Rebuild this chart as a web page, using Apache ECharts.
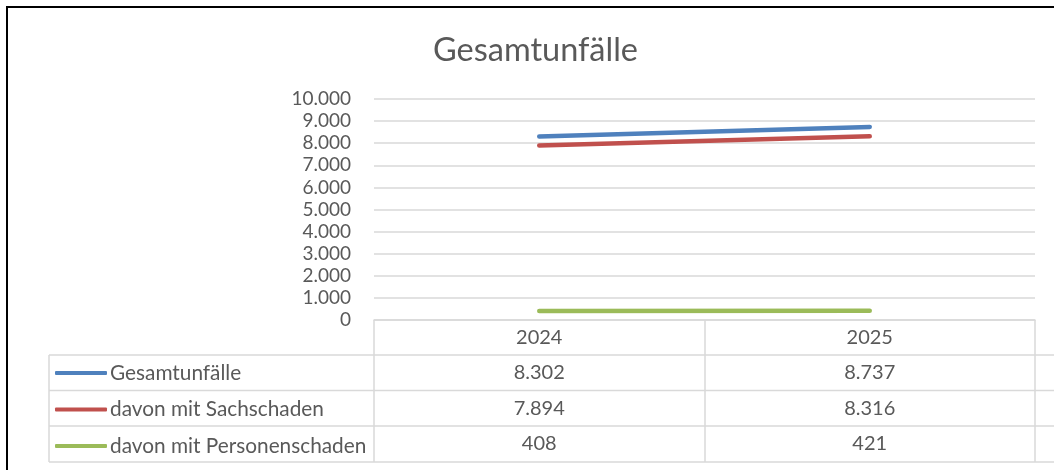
<!DOCTYPE html>
<html>
<head>
<meta charset="utf-8">
<title>Gesamtunfälle</title>
<script src="https://cdn.jsdelivr.net/npm/echarts@6/dist/echarts.min.js"></script>
<style>
  html, body { margin: 0; padding: 0; background: #fff; overflow: hidden; }
  #wrap { width: 1054px; height: 470px; overflow: hidden; }
  #chart { width: 1062px; height: 470px; }
</style>
</head>
<body>
<div id="wrap"><div id="chart"></div></div>
<script>
// Werte aus der Vorlage
const years = ['2024', '2025']
const seriesNames = ['Gesamtunfälle', 'davon mit Sachschaden', 'davon mit Personenschaden']
const gesamt = [8302, 8737]
const sachschaden = [7894, 8316]
const personenschaden = [408, 421]
const yTicks = [0, 1000, 2000, 3000, 4000, 5000, 6000, 7000, 8000, 9000, 10000]

const colors = ['#4F81BD', '#C0504D', '#9BBB59']
const textColor = '#595959'
const lineColor = '#d9d9d9'
const font = 'Lato'

// Tausenderpunkt wie in der Vorlage
const fmt = v => String(v).replace(/\B(?=(\d{3})+(?!\d))/g, '.')

// Tabellenlayout (Pixel)
const tableLeft = 49
const headerTop = 320
const rowTops = [355, 390.5, 426, 462]

const chart = echarts.init(document.getElementById('chart'))

const option = {
  animation: false,
  color: colors,
  title: {
    text: 'Gesamtunfälle',
    left: 428,
    top: 29,
    textStyle: { fontFamily: font, fontSize: 32.5, fontWeight: 'normal', color: textColor }
  },
  legend: {
    orient: 'vertical',
    left: 55,
    top: rowTops[0] + 7.5,
    padding: 0,
    itemWidth: 52,
    itemHeight: 4,
    itemGap: 15.5,
    icon: 'roundRect',
    textStyle: { fontFamily: font, fontSize: 20.8, color: textColor, lineHeight: 20, padding: [0, 0, 0, -2] },
    data: seriesNames
  },
  grid: { left: 374, right: 27, top: 99, bottom: 150 },
  xAxis: {
    type: 'category',
    data: years,
    boundaryGap: true,
    axisLine: { lineStyle: { color: lineColor, width: 1.5 } },
    axisTick: { show: true, length: rowTops[3] - headerTop, lineStyle: { color: lineColor, width: 1.5 } },
    axisLabel: { margin: 8, fontFamily: font, fontSize: 20, color: textColor }
  },
  yAxis: {
    type: 'value',
    min: yTicks[0],
    max: yTicks[yTicks.length - 1],
    interval: 1000,
    axisLine: { show: false },
    axisTick: { show: false },
    splitLine: { lineStyle: { color: lineColor, width: 1.5 } },
    axisLabel: { margin: 23, fontFamily: font, fontSize: 19, color: textColor, formatter: fmt }
  },
  series: [
    { name: seriesNames[0], type: 'line', data: gesamt },
    { name: seriesNames[1], type: 'line', data: sachschaden },
    { name: seriesNames[2], type: 'line', data: personenschaden }
  ].map(s => Object.assign(s, {
    showSymbol: false,
    symbol: 'none',
    lineStyle: { width: 4.5, cap: 'round' }
  }))
}

chart.setOption(option)

// Rahmen oben und links (Ausschnitt des Excel-Diagramms)
const elements = [
  { type: 'line', silent: true, shape: { x1: 6, y1: 7, x2: 1062, y2: 7 }, style: { stroke: '#000', lineWidth: 2 } },
  { type: 'line', silent: true, shape: { x1: 7, y1: 6, x2: 7, y2: 470 }, style: { stroke: '#000', lineWidth: 2 } }
]

// Datentabelle unter dem Diagramm
const rows = [gesamt, sachschaden, personenschaden]
const right = chart.convertToPixel({ xAxisIndex: 0 }, years.length - 0.5)
rowTops.forEach(y => {
  elements.push({
    type: 'line', silent: true,
    shape: { x1: tableLeft, y1: y, x2: right, y2: y },
    style: { stroke: lineColor, lineWidth: 1.5 }
  })
})
elements.push({
  type: 'line', silent: true,
  shape: { x1: tableLeft, y1: rowTops[0], x2: tableLeft, y2: rowTops[3] },
  style: { stroke: lineColor, lineWidth: 1.5 }
})
rows.forEach((vals, r) => {
  const cy = (rowTops[r] + rowTops[r + 1]) / 2
  vals.forEach((v, i) => {
    const cx = chart.convertToPixel({ xAxisIndex: 0 }, years[i])
    elements.push({
      type: 'text', silent: true,
      x: cx, y: cy,
      style: {
        text: fmt(v), fontFamily: font, fontSize: 20, fill: textColor,
        align: 'center', verticalAlign: 'middle'
      }
    })
  })
})
chart.setOption({ graphic: elements })
</script>
</body>
</html>
